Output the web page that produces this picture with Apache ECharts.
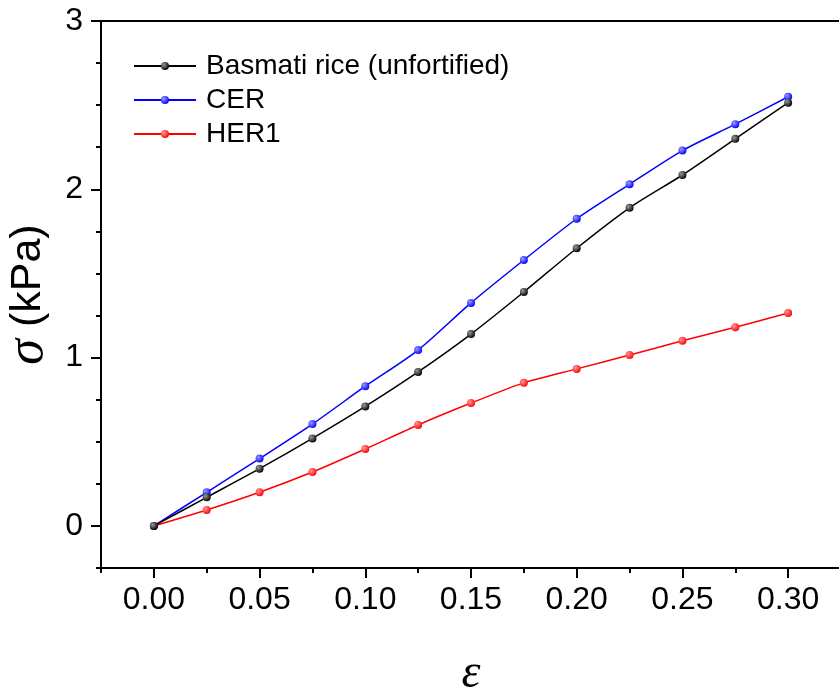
<!DOCTYPE html>
<html><head><meta charset="utf-8">
<script src="https://cdn.jsdelivr.net/npm/echarts@6/dist/echarts.min.js"></script>
<style>html,body{margin:0;padding:0;background:#fff}#c{width:839px;height:693px}</style>
</head><body><div id="c"></div>
<script>
const strain = [0, 0.025, 0.05, 0.075, 0.1, 0.125, 0.15, 0.175, 0.2, 0.225, 0.25, 0.275, 0.3];
const basmati = [0, 0.17, 0.34, 0.52, 0.71, 0.915, 1.14, 1.39, 1.65, 1.89, 2.085, 2.30, 2.515];
const cer = [0, 0.20, 0.40, 0.605, 0.83, 1.045, 1.325, 1.58, 1.825, 2.03, 2.23, 2.387, 2.55];
const her1 = [0, 0.095, 0.20, 0.32, 0.457, 0.60, 0.73, 0.85, 0.933, 1.015, 1.10, 1.18, 1.265];
const seriesNames = ['Basmati rice (unfortified)', 'CER', 'HER1'];
const xTicks = [0, 0.05, 0.10, 0.15, 0.20, 0.25, 0.30];
const xMinorTicks = [-0.025, 0.025, 0.075, 0.125, 0.175, 0.225, 0.275];
const yTicks = [0, 1, 2, 3];
const yMinorTicks = [-0.25, 0.25, 0.5, 0.75, 1.25, 1.5, 1.75, 2.25, 2.5, 2.75];

const colors = ['#000000', '#0000ff', '#ff0000'];
const light = ['#9a9a9a', '#9a9aff', '#ff9a9a'];
function ball(i){
  return new echarts.graphic.RadialGradient(0.35, 0.35, 0.7, [
    {offset:0, color: light[i]}, {offset:1, color: colors[i]}]);
}
const chart = echarts.init(document.getElementById('c'), null, {renderer:'canvas'});
const font = 'Liberation Sans, Arial, sans-serif';
const xRange = {min:-0.025, max:0.325};
const yRange = {min:-0.25, max:3};
const option = {
  animation:false,
  grid:{left:101, top:21, width:740, height:547, containLabel:false, outerBoundsMode:'none',
        show:true, borderColor:'#000', borderWidth:2, backgroundColor:'transparent'},
  legend:{
    left:128, top:47, orient:'vertical', itemWidth:62, itemHeight:10, itemGap:6,
    data: seriesNames,
    textStyle:{fontFamily:font, fontSize:28, color:'#000', lineHeight:28, padding:[0,0,0,5]}
  },
  xAxis:[
    {type:'value', ...xRange, position:'bottom',
     axisLine:{show:true, onZero:false, lineStyle:{color:'#000', width:2}},
     axisTick:{show:true, length:10, customValues:xTicks, lineStyle:{color:'#000', width:2}},
     axisLabel:{show:true, customValues:xTicks, margin:16, fontFamily:font, fontSize:32, color:'#000',
       formatter:v=>v.toFixed(2)},
     splitLine:{show:false},
     name:'ε', nameLocation:'middle', nameGap:82,
     nameTextStyle:{fontFamily:'Liberation Serif, serif', fontStyle:'italic', fontSize:48, color:'#000'}},
    {type:'value', ...xRange, position:'bottom',
     axisLine:{show:false, onZero:false},
     axisTick:{show:true, length:5, customValues:xMinorTicks, lineStyle:{color:'#000', width:2}},
     axisLabel:{show:false}, splitLine:{show:false}}
  ],
  yAxis:[
    {type:'value', ...yRange, position:'left',
     axisLine:{show:true, onZero:false, lineStyle:{color:'#000', width:2}},
     axisTick:{show:true, length:10, customValues:yTicks, lineStyle:{color:'#000', width:2}},
     axisLabel:{show:true, customValues:yTicks, margin:18, fontFamily:font, fontSize:32, color:'#000'},
     splitLine:{show:false},
     name:'{s|σ} (kPa)', nameLocation:'middle', nameGap:44, nameRotate:90,
     nameTextStyle:{fontFamily:font, fontSize:43, color:'#000',
       rich:{s:{fontFamily:'Liberation Serif, serif', fontStyle:'italic', fontSize:52, color:'#000'}}}},
    {type:'value', ...yRange, position:'left',
     axisLine:{show:false, onZero:false},
     axisTick:{show:true, length:5, customValues:yMinorTicks, lineStyle:{color:'#000', width:2}},
     axisLabel:{show:false}, splitLine:{show:false}}
  ],
  series:[basmati, cer, her1].map((arr, i) => ({
    name: seriesNames[i], type:'line', xAxisIndex:0, yAxisIndex:0,
    data: strain.map((x, k) => [x, arr[k]]),
    smooth:0.25, symbol:'circle', symbolSize:8, showSymbol:true,
    lineStyle:{color:colors[i], width:1.5},
    itemStyle:{color:ball(i), borderWidth:0},
    z: 3 - i
  }))
};
chart.setOption(option);
</script></body></html>
